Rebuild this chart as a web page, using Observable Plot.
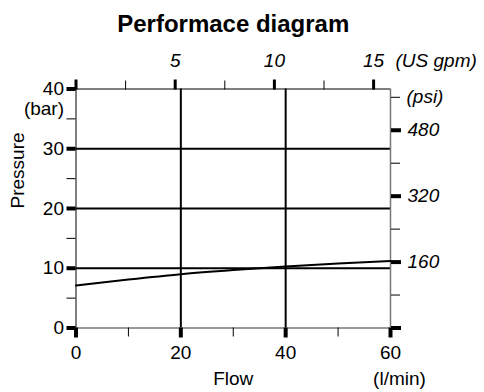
<!DOCTYPE html>
<html>
<head>
<meta charset="utf-8">
<script src="https://cdn.jsdelivr.net/npm/d3@7"></script>
<script src="https://cdn.jsdelivr.net/npm/@observablehq/plot@0.6"></script>
<style>
  body { margin: 0; background: #fff; }
  svg { font-family: "Liberation Sans", Arial, sans-serif; }
</style>
</head>
<body>
<div id="chart"></div>
<script>
const title = "Performace diagram";
const flow = [0, 10, 20, 30, 40, 50, 60];           // l/min
const pressure = [7.1, 8.1, 9.0, 9.7, 10.3, 10.8, 11.2]; // bar

const xMajor = [0, 20, 40, 60];
const xMinor = [10, 30, 50];
const yMajor = [0, 10, 20, 30, 40];
const yMinor = [5, 15, 25, 35];
const gpmMajor = [0, 5, 10, 15];
const gpmMinor = [2.5, 7.5, 12.5];
const psiMajor = [0, 160, 320, 480];
const psiMinor = [80, 240, 400, 560];
const xGrid = [20, 40];
const yGrid = [10, 20, 30];

const LPM_PER_GPM = 3.785;
const PSI_PER_BAR = 14.5038;

const data = flow.map((f, i) => ({flow: f, pressure: pressure[i]}));
const FS = 19;

const chart = Plot.plot({
  width: 484,
  height: 392,
  marginTop: 88.5,
  marginBottom: 64.5,
  marginLeft: 75.5,
  marginRight: 94,
  x: {domain: [0, 60]},
  y: {domain: [0, 40]},
  marks: [
    // grid
    Plot.ruleY(yGrid, {x1: 0, x2: 60, stroke: "black", strokeWidth: 2}),
    Plot.ruleX(xGrid, {y1: 0, y2: 40, stroke: "black", strokeWidth: 2}),
    // frame
    Plot.ruleY([40], {x1: 0, x2: 60, stroke: "black", strokeWidth: 1}),
    Plot.ruleY([0], {x1: 0, x2: 60, stroke: "#777", strokeWidth: 1.5}),
    Plot.ruleX([60], {y1: 0, y2: 40, stroke: "#777", strokeWidth: 1.5}),
    Plot.ruleX([0], {y1: 0, y2: 40, stroke: "black", strokeWidth: 1}),
    // curve
    Plot.line(data, {x: "flow", y: "pressure", stroke: "black", strokeWidth: 2, curve: "monotone-x"}),
    // bottom axis (l/min)
    Plot.axisX(xMajor, {anchor: "bottom", tickSize: 10, strokeWidth: 4, tickPadding: 7, fontSize: FS, label: null, tickFormat: d => String(d)}),
    Plot.axisX(xMinor, {anchor: "bottom", tickSize: 9, strokeWidth: 1, tickFormat: () => "", label: null}),
    // top axis (US gpm)
    Plot.axisX(gpmMajor.map(g => g * LPM_PER_GPM), {anchor: "top", tickSize: 10, strokeWidth: 3, tickPadding: 12, fontSize: FS, fontStyle: "italic", label: null,
      tickFormat: d => { const g = Math.round(d / LPM_PER_GPM); return g === 0 ? "" : String(g); }}),
    Plot.axisX(gpmMinor.map(g => g * LPM_PER_GPM), {anchor: "top", tickSize: 9, strokeWidth: 1, tickFormat: () => "", label: null}),
    // left axis (bar)
    Plot.axisY(yMajor, {anchor: "left", tickSize: 9, strokeWidth: 4, tickPadding: 3, fontSize: FS, label: null, tickFormat: d => String(d)}),
    Plot.axisY(yMinor, {anchor: "left", tickSize: 9, strokeWidth: 1, tickFormat: () => "", label: null}),
    // right axis (psi)
    Plot.axisY(psiMajor.map(p => p / PSI_PER_BAR), {anchor: "right", tickSize: 10, strokeWidth: 4, tickPadding: 7, fontSize: FS, fontStyle: "italic", label: null,
      tickFormat: d => { const p = Math.round(d * PSI_PER_BAR); return p === 0 ? "" : String(p); }}),
    Plot.axisY(psiMinor.map(p => p / PSI_PER_BAR), {anchor: "right", tickSize: 9, strokeWidth: 1, tickPadding: 7, fontSize: FS, fontStyle: "italic", label: null,
      tickFormat: d => Math.round(d * PSI_PER_BAR) === 560 ? "(psi)" : ""}),
    // unit / axis labels
    Plot.text([title], {frameAnchor: "top", dy: -65, fontSize: 24, fontWeight: "bold", lineAnchor: "middle"}),
    Plot.text(["(US gpm)"], {frameAnchor: "top-right", dx: 5, dy: -28, textAnchor: "start", lineAnchor: "middle", fontSize: FS, fontStyle: "italic"}),
    Plot.text(["(bar)"], {frameAnchor: "top-left", dx: -12, dy: 20, textAnchor: "end", lineAnchor: "middle", fontSize: FS}),
    Plot.text(["Pressure"], {frameAnchor: "left", dx: -58, rotate: -90, lineAnchor: "middle", fontSize: FS}),
    Plot.text(["Flow"], {frameAnchor: "bottom", dy: 51, lineAnchor: "middle", fontSize: FS}),
    Plot.text(["(l/min)"], {frameAnchor: "bottom-right", dx: 9, dy: 51, textAnchor: "middle", lineAnchor: "middle", fontSize: FS})
  ]
});
document.getElementById("chart").appendChild(chart);
</script>
</body>
</html>
